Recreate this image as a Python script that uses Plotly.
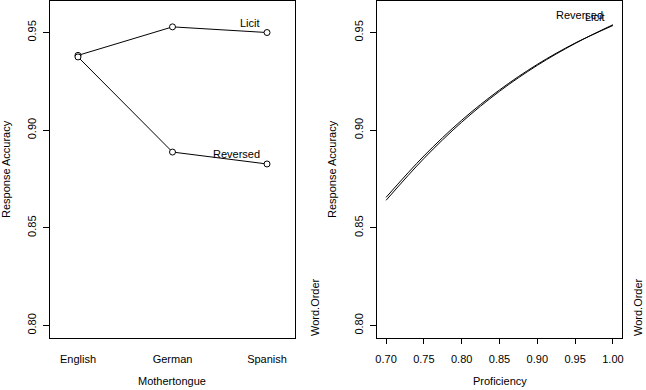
import plotly.graph_objects as go

# ---- data ----
mothertongue = ["English", "German", "Spanish"]
mt_pos = [1, 2, 3]
licit_mt = [0.9383, 0.9529, 0.9500]
reversed_mt = [0.9375, 0.8888, 0.8827]

proficiency = [0.70, 0.75, 0.80, 0.85, 0.90, 0.95, 1.00]
licit_prof = [0.8656, 0.8868, 0.9051, 0.9206, 0.9337, 0.9446, 0.9536]
reversed_prof = [0.8641, 0.8855, 0.9041, 0.9199, 0.9332, 0.9444, 0.9540]

y_tickvals = [0.80, 0.85, 0.90, 0.95]
y_ticktext = ["0.80", "0.85", "0.90", "0.95"]
prof_tickvals = [0.70, 0.75, 0.80, 0.85, 0.90, 0.95, 1.00]
prof_ticktext = ["0.70", "0.75", "0.80", "0.85", "0.90", "0.95", "1.00"]

W, H = 646, 390
FONT = "Liberation Sans, Arial, Helvetica, sans-serif"
INK = "#000000"

def fx(p):
    return p / W

def fy(p):
    return 1 - p / H

fig = go.Figure()

line_style = dict(color=INK, width=1)
marker_style = dict(symbol="circle", size=6, color="white", line=dict(color=INK, width=1))

fig.add_trace(go.Scatter(x=mt_pos, y=licit_mt, mode="lines+markers", line=line_style,
                         marker=marker_style, name="Licit", xaxis="x", yaxis="y"))
fig.add_trace(go.Scatter(x=mt_pos, y=reversed_mt, mode="lines+markers", line=line_style,
                         marker=marker_style, name="Reversed", xaxis="x", yaxis="y"))

fig.add_trace(go.Scatter(x=proficiency, y=licit_prof, mode="lines",
                         line=dict(color=INK, width=1, shape="spline"), name="Licit",
                         xaxis="x2", yaxis="y2"))
fig.add_trace(go.Scatter(x=proficiency, y=reversed_prof, mode="lines",
                         line=dict(color=INK, width=1, shape="spline"), name="Reversed",
                         xaxis="x2", yaxis="y2"))

yr = [0.7936, 0.9664]
ydom = [fy(338), fy(0.5)]
axis_common = dict(showline=True, mirror=True, linecolor=INK, linewidth=1,
                   showgrid=False, zeroline=False, automargin=False,
                   tickfont=dict(family=FONT, size=11, color=INK))

fig.update_layout(
    width=W, height=H,
    margin=dict(l=0, r=0, t=0, b=0, autoexpand=False),
    paper_bgcolor="white", plot_bgcolor="white",
    showlegend=False,
    font=dict(family=FONT, size=11, color=INK),
    xaxis=dict(domain=[fx(50), fx(295)], range=[0.704, 3.296],
               tickvals=mt_pos, ticktext=mothertongue, ticks="",
               ticklabelstandoff=11, anchor="y", **axis_common),
    yaxis=dict(domain=ydom, range=yr, tickvals=y_tickvals, ticktext=y_ticktext,
               tickangle=-90, ticks="outside", ticklen=6, tickcolor=INK,
               ticklabelstandoff=3, anchor="x", **axis_common),
    xaxis2=dict(domain=[fx(377), fx(622)], range=[0.688, 1.012],
                tickvals=prof_tickvals, ticktext=prof_ticktext,
                ticks="outside", ticklen=5, tickcolor=INK, ticklabelstandoff=6,
                anchor="y2", **axis_common),
    yaxis2=dict(domain=ydom, range=yr, tickvals=y_tickvals, ticktext=y_ticktext,
                tickangle=-90, ticks="outside", ticklen=6, tickcolor=INK,
                ticklabelstandoff=3, anchor="x2", **axis_common),
)

ann = []
# axis titles
ann.append(dict(text="Mothertongue", x=fx(172.5), y=fy(381), xref="paper", yref="paper",
                xanchor="center", yanchor="middle", showarrow=False))
ann.append(dict(text="Proficiency", x=fx(499.5), y=fy(381), xref="paper", yref="paper",
                xanchor="center", yanchor="middle", showarrow=False))
for xc in (6, 332):
    ann.append(dict(text="Response Accuracy", x=fx(xc), y=fy(169), xref="paper", yref="paper",
                    xanchor="center", yanchor="middle", textangle=-90, showarrow=False))
for xc in (315, 638):
    ann.append(dict(text="Word.Order", x=fx(xc), y=fy(338), xref="paper", yref="paper",
                    xanchor="center", yanchor="bottom", textangle=-90, showarrow=False))

# line labels
ann.append(dict(text="Licit", x=mt_pos[-1], y=licit_mt[-1], xref="x", yref="y",
                xanchor="right", yanchor="bottom", xshift=-5, yshift=2, showarrow=False))
ann.append(dict(text="Reversed", x=mt_pos[-1], y=reversed_mt[-1], xref="x", yref="y",
                xanchor="right", yanchor="bottom", xshift=-5, yshift=2, showarrow=False))
ann.append(dict(text="Reversed", x=proficiency[-1], y=reversed_prof[-1], xref="x2", yref="y2",
                xanchor="right", yanchor="bottom", xshift=-8, yshift=2, showarrow=False))
ann.append(dict(text="Licit", x=proficiency[-1], y=licit_prof[-1], xref="x2", yref="y2",
                xanchor="right", yanchor="bottom", xshift=-6, yshift=1, showarrow=False))

fig.update_layout(annotations=ann)

fig.write_html("out.html", config={"displayModeBar": False},
               post_script="document.body.style.margin='0';document.body.style.overflow='hidden';")
